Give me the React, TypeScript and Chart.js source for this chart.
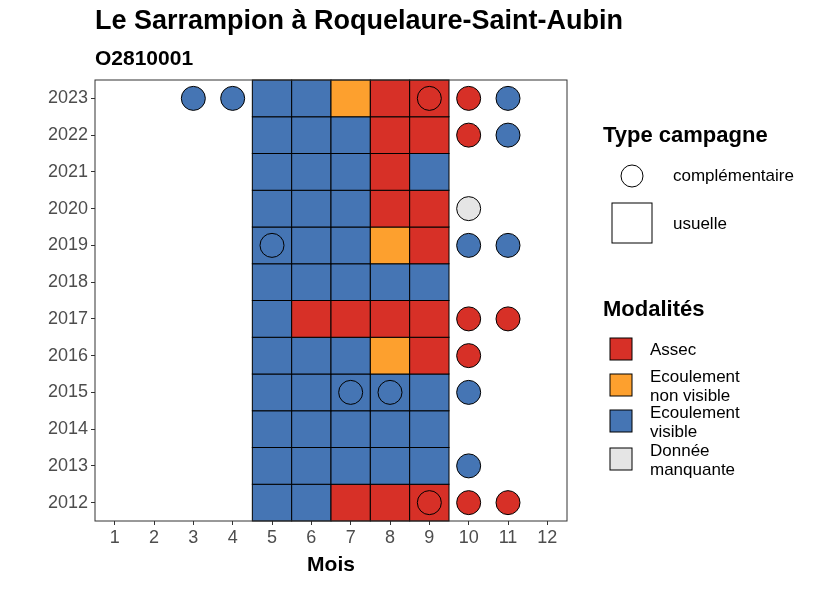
import React, { useEffect, useRef } from "react";
import { Chart, registerables } from "chart.js";
Chart.register(...registerables);

const years = [2012, 2013, 2014, 2015, 2016, 2017, 2018, 2019, 2020, 2021, 2022, 2023];
const months = [1, 2, 3, 4, 5, 6, 7, 8, 9, 10, 11, 12];
// usual campaign, months 5..9, codes: A=Assec, N=non visible, V=visible, M=manquante
const usualMonths = [5, 6, 7, 8, 9];
const usualCodes: string[] = [
  "VVAAA", // 2012
  "VVVVV", // 2013
  "VVVVV", // 2014
  "VVVVV", // 2015
  "VVVNA", // 2016
  "VAAAA", // 2017
  "VVVVV", // 2018
  "VVVNA", // 2019
  "VVVAA", // 2020
  "VVVAV", // 2021
  "VVVAA", // 2022
  "VVNAA", // 2023
];
// complementary campaigns: [month, year, code]
const compl: [number, number, string][] = [
  [3, 2023, "V"], [4, 2023, "V"], [9, 2023, "A"], [10, 2023, "A"], [11, 2023, "V"],
  [10, 2022, "A"], [11, 2022, "V"],
  [10, 2020, "M"],
  [5, 2019, "V"], [10, 2019, "V"], [11, 2019, "V"],
  [10, 2017, "A"], [11, 2017, "A"],
  [10, 2016, "A"],
  [7, 2015, "V"], [8, 2015, "V"], [10, 2015, "V"],
  [10, 2013, "V"],
  [9, 2012, "A"], [10, 2012, "A"], [11, 2012, "A"],
];
const colors: Record<string, string> = { A: "#D73027", N: "#FDA02E", V: "#4575B4", M: "#E5E5E5" };
const legendCodes = ["A", "N", "V", "M"];
const legendLabels = [["Assec"], ["Ecoulement", "non visible"], ["Ecoulement", "visible"], ["Donnée", "manquante"]];

const FONT = "'Liberation Sans', Arial, sans-serif";

export default function App() {
  const ref = useRef<HTMLCanvasElement>(null);
  useEffect(() => {
    const cellPlugin = {
      id: "cells",
      beforeDatasetsDraw(chart: any) {
        const { ctx, scales } = chart;
        const x = scales.x, y = scales.y;
        ctx.save();
        years.forEach((yr, i) => {
          usualMonths.forEach((m, j) => {
            const c = usualCodes[i][j];
            const x0 = x.getPixelForValue(m - 0.5), x1 = x.getPixelForValue(m + 0.5);
            const y0 = y.getPixelForValue(yr + 0.5), y1 = y.getPixelForValue(yr - 0.5);
            ctx.fillStyle = colors[c];
            ctx.fillRect(x0, y0, x1 - x0, y1 - y0);
            ctx.strokeStyle = "#000";
            ctx.lineWidth = 1;
            ctx.strokeRect(x0, y0, x1 - x0, y1 - y0);
          });
        });
        ctx.restore();
      },
      afterDraw(chart: any) {
        const { ctx, chartArea } = chart;
        ctx.save();
        ctx.strokeStyle = "#333";
        ctx.lineWidth = 1;
        ctx.strokeRect(chartArea.left, chartArea.top, chartArea.right - chartArea.left, chartArea.bottom - chartArea.top);
        ctx.fillStyle = "#000";
        ctx.textBaseline = "middle";
        ctx.textAlign = "left";
        ctx.font = `bold 27px ${FONT}`;
        ctx.fillText("Le Sarrampion à Roquelaure-Saint-Aubin", 87, 14);
        ctx.font = `bold 21px ${FONT}`;
        ctx.fillText("O2810001", 87, 51);
        // legend 1
        ctx.font = `bold 22px ${FONT}`;
        ctx.fillText("Type campagne", 595, 128);
        ctx.beginPath();
        ctx.arc(624, 168, 11, 0, Math.PI * 2);
        ctx.fillStyle = "#fff"; ctx.fill(); ctx.strokeStyle = "#000"; ctx.stroke();
        ctx.fillRect(604, 195, 40, 40);
        ctx.strokeRect(604, 195, 40, 40);
        ctx.fillStyle = "#000";
        ctx.font = `17px ${FONT}`;
        ctx.fillText("complémentaire", 665, 168);
        ctx.fillText("usuelle", 665, 216);
        // legend 2
        ctx.font = `bold 22px ${FONT}`;
        ctx.fillText("Modalités", 595, 302);
        const ys = [341, 377, 413, 451];
        legendCodes.forEach((c, i) => {
          ctx.fillStyle = colors[c];
          ctx.fillRect(602, ys[i] - 11, 22, 22);
          ctx.strokeRect(602, ys[i] - 11, 22, 22);
          ctx.fillStyle = "#000";
          ctx.font = `17px ${FONT}`;
          const L = legendLabels[i];
          if (L.length === 1) ctx.fillText(L[0], 642, ys[i] + 1);
          else { ctx.fillText(L[0], 642, ys[i] - 8); ctx.fillText(L[1], 642, ys[i] + 11); }
        });
        ctx.restore();
      },
    };
    const grid = { display: true, drawOnChartArea: false, drawTicks: true, tickLength: 4, tickColor: "#333", color: "#333" } as any;
    const chart = new Chart(ref.current!, {
      type: "scatter",
      data: {
        datasets: [{
          data: compl.map(([m, y]) => ({ x: m, y })),
          backgroundColor: compl.map(([, , c]) => colors[c]),
          borderColor: "#000",
          borderWidth: 1,
          pointRadius: 12,
          pointHoverRadius: 12,
        }],
      },
      options: {
        animation: false,
        responsive: false,
        events: [],
        layout: { padding: { left: 0, right: 251, top: 72, bottom: 0 } },
        plugins: { legend: { display: false }, tooltip: { enabled: false } },
        scales: {
          x: {
            type: "linear", min: 0.5, max: 12.5,
            afterBuildTicks: (s: any) => { s.ticks = months.map((v) => ({ value: v })); },
            afterFit: (s: any) => { s.height = 61; },
            grid,
            border: { display: false },
            ticks: { color: "#4d4d4d", font: { size: 18, family: FONT }, padding: 2, callback: (v: any) => String(v) },
            title: { display: true, text: "Mois", color: "#000", font: { size: 21, weight: "bold", family: FONT }, padding: { top: 0 } },
          },
          y: {
            type: "linear", min: 2011.5, max: 2023.5,
            afterBuildTicks: (s: any) => { s.ticks = years.map((v) => ({ value: v })); },
            afterFit: (s: any) => { s.width = 87; },
            grid,
            border: { display: false },
            ticks: { color: "#4d4d4d", font: { size: 18, family: FONT }, padding: 3, callback: (v: any) => String(v) },
          },
        },
      },
      plugins: [cellPlugin],
    });
    return () => chart.destroy();
  }, []);
  return <canvas ref={ref} width={810} height={574} style={{ display: "block" }} />;
}
